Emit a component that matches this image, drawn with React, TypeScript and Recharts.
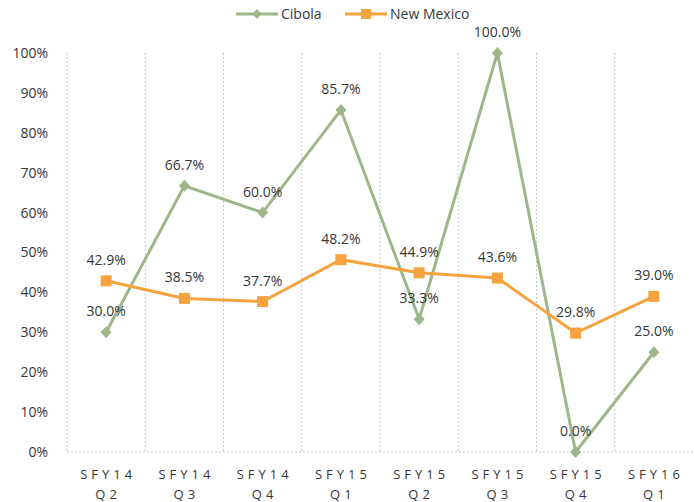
import { LineChart, Line, XAxis, YAxis, CartesianGrid, LabelList } from "recharts"

const fiscalYears = ["SFY14", "SFY14", "SFY14", "SFY15", "SFY15", "SFY15", "SFY15", "SFY16"]
const quarters = ["Q2", "Q3", "Q4", "Q1", "Q2", "Q3", "Q4", "Q1"]
const cibola = [30.0, 66.7, 60.0, 85.7, 33.3, 100.0, 0.0, 25.0]
const newMexico = [42.9, 38.5, 37.7, 48.2, 44.9, 43.6, 29.8, 39.0]
const yTicks = [0, 10, 20, 30, 40, 50, 60, 70, 80, 90, 100]

const GREEN = "#9DB68A"
const ORANGE = "#F5A33F"
const TEXT = "#363636"
const FONT = "'Open Sans', sans-serif"

const data = fiscalYears.map((fy, i) => ({
  period: `${fy} ${quarters[i]}`,
  fy,
  q: quarters[i],
  cibola: cibola[i],
  newMexico: newMexico[i],
}))

const Diamond = (props: any) => {
  const { cx, cy } = props
  if (cx == null || cy == null) return null
  return <path d={`M${cx},${cy - 6} L${cx + 5.5},${cy} L${cx},${cy + 6} L${cx - 5.5},${cy} Z`} fill={GREEN} />
}

const Square = (props: any) => {
  const { cx, cy } = props
  if (cx == null || cy == null) return null
  return <rect x={cx - 5.5} y={cy - 5.5} width={11} height={11} fill={ORANGE} />
}

const PeriodTick = (props: any) => {
  const { x, y, payload } = props
  const row = data[payload.index] || data.find((d) => d.period === payload.value)
  if (!row) return null
  return (
    <text x={x + 2} y={y} textAnchor="middle" fontFamily={FONT} fontSize={13} fill={TEXT} letterSpacing={4}>
      <tspan x={x + 2} dy={25}>{row.fy}</tspan>
      <tspan x={x + 2} dy={20}>{row.q}</tspan>
    </text>
  )
}

const TopLegend = () => (
  <svg width={694} height={28} style={{ position: "absolute", left: 0, top: 0 }}>
    <g fontFamily={FONT} fontSize={14} fill={TEXT}>
      <line x1={236} x2={278} y1={14} y2={14} stroke={GREEN} strokeWidth={3} />
      <path d="M257,9 L261.5,14 L257,19 L252.5,14 Z" fill={GREEN} />
      <text x={281} y={19}>Cibola</text>
      <line x1={345} x2={387} y1={14} y2={14} stroke={ORANGE} strokeWidth={3} />
      <rect x={361} y={9} width={10} height={10} fill={ORANGE} />
      <text x={390} y={19}>New Mexico</text>
    </g>
  </svg>
)

export default function App() {
  return (
    <div style={{ position: "absolute", left: 0, top: 0, width: 694, height: 502, background: "#fff" }}>
      <LineChart
        width={694}
        height={502}
        data={data}
        margin={{ top: 53, right: 1, left: 0, bottom: 0 }}
      >
        <CartesianGrid
          horizontal={false}
          stroke="#C8C8C8"
          strokeDasharray="2 2"
          verticalCoordinatesGenerator={({ offset }: any) =>
            data.map((_, i) => offset.left + (i * offset.width) / data.length)
          }
        />
        <XAxis
          dataKey="period"
          scale="band"
          height={50}
          interval={0}
          tickLine={false}
          tickSize={0}
          axisLine={{ stroke: "#C8C8C8", strokeDasharray: "2 2" }}
          tick={<PeriodTick />}
        />
        <YAxis
          width={67}
          domain={[0, 100]}
          ticks={yTicks}
          interval={0}
          axisLine={false}
          tickLine={false}
          tickSize={0}
          tickMargin={19}
          tickFormatter={(v) => `${v}%`}
          tick={{ fontFamily: FONT, fontSize: 14, fill: TEXT }}
        />
        <Line
          dataKey="cibola"
          name="Cibola"
          stroke={GREEN}
          strokeWidth={3}
          dot={<Diamond />}
          activeDot={false}
          isAnimationActive={false}
        >
          <LabelList
            dataKey="cibola"
            position="top"
            offset={16}
            formatter={(v: any) => `${Number(v).toFixed(1)}%`}
            style={{ fontFamily: FONT, fontSize: 14, fill: TEXT }}
          />
        </Line>
        <Line
          dataKey="newMexico"
          name="New Mexico"
          stroke={ORANGE}
          strokeWidth={3}
          dot={<Square />}
          activeDot={false}
          isAnimationActive={false}
        >
          <LabelList
            dataKey="newMexico"
            position="top"
            offset={16}
            formatter={(v: any) => `${Number(v).toFixed(1)}%`}
            style={{ fontFamily: FONT, fontSize: 14, fill: TEXT }}
          />
        </Line>
      </LineChart>
      <TopLegend />
    </div>
  )
}
